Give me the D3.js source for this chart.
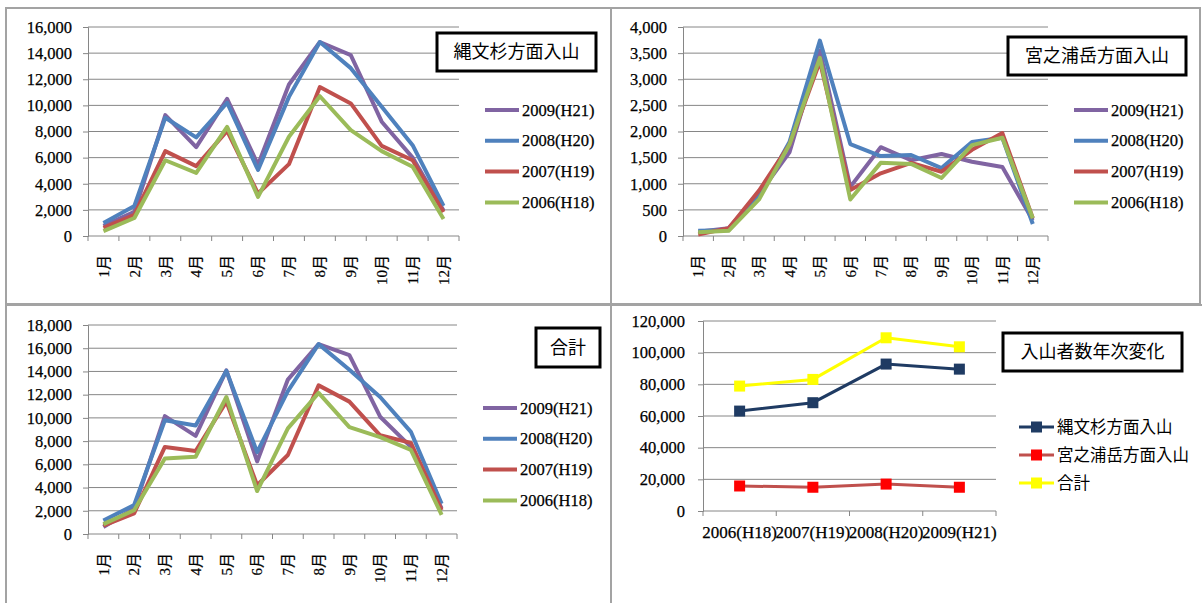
<!DOCTYPE html>
<html>
<head>
<meta charset="utf-8">
<script src="https://cdn.jsdelivr.net/npm/d3@7"></script>
<style>
body { margin: 0; background: #fff; }
svg { display: block; }
.num { font-family: "Liberation Serif", "Noto Sans CJK JP", serif; font-size: 16.5px; fill: #000; stroke: #000; stroke-width: 0.25px; }
.mon { font-family: "Liberation Serif", "Noto Sans CJK JP", serif; font-size: 15px; fill: #000; stroke: #000; stroke-width: 0.2px; }
.jp { font-family: "Noto Sans CJK JP", sans-serif; fill: #000; }
</style>
</head>
<body>
<div id="chart"></div>
<script>
// データ
const months = ["1月", "2月", "3月", "4月", "5月", "6月", "7月", "8月", "9月", "10月", "11月", "12月"];
const years = ["2009(H21)", "2008(H20)", "2007(H19)", "2006(H18)"];
const seriesColors = ["#8064A2", "#4F81BD", "#C0504D", "#9BBB59"];

// 縄文杉方面入山
const jomon2009 = [770, 1850, 9250, 6800, 10500, 5450, 11600, 14850, 13850, 8750, 6000, 1950];
const jomon2008 = [1000, 2300, 9050, 7550, 10200, 5050, 10650, 14850, 12850, 9900, 6950, 2300];
const jomon2007 = [620, 1620, 6500, 5350, 8050, 3250, 5500, 11400, 10150, 6900, 5800, 1840];
const jomon2006 = [380, 1380, 5800, 4830, 8350, 2990, 7600, 10700, 8100, 6500, 5300, 1300];

// 宮之浦岳方面入山
const miya2009 = [80, 150, 800, 1600, 3550, 940, 1700, 1450, 1570, 1420, 1320, 300];
const miya2008 = [100, 110, 750, 1800, 3740, 1760, 1530, 1550, 1300, 1800, 1880, 230];
const miya2007 = [30, 150, 870, 1750, 3340, 880, 1200, 1400, 1230, 1650, 1970, 340];
const miya2006 = [70, 100, 700, 1750, 3410, 700, 1400, 1380, 1110, 1740, 1880, 340];

// 合計
const total2009 = [600, 2200, 10150, 8450, 14100, 6250, 13300, 16350, 15400, 10100, 7500, 2200];
const total2008 = [1150, 2500, 9800, 9350, 14050, 7050, 12300, 16350, 14150, 11800, 8800, 2600];
const total2007 = [720, 1780, 7500, 7150, 11400, 4200, 6800, 12800, 11400, 8500, 7850, 2050];
const total2006 = [850, 2050, 6500, 6650, 11800, 3700, 9100, 12150, 9200, 8350, 7250, 1650];

// 入山者数年次変化
const yearCats = ["2006(H18)", "2007(H19)", "2008(H20)", "2009(H21)"];
const jomonYear = [63100, 68400, 92800, 89600];
const miyaYear = [15800, 15000, 17000, 15000];
const totalYear = [78900, 83100, 109400, 103700];
const yearNames = ["縄文杉方面入山", "宮之浦岳方面入山", "合計"];

const width = 1202, height = 603;
const svg = d3.select("#chart").append("svg")
    .attr("width", width).attr("height", height);

// パネルの枠
const frame = svg.append("g").attr("stroke", "#a3a3a3").attr("stroke-width", 2).attr("fill", "none");
frame.append("path").attr("d", "M6,603V8H1200V304H6");
frame.append("path").attr("d", "M611,8V603");
frame.append("path").attr("d", "M6,305H611V305H1202");

const fmt = d3.format(",");

function titleBox(x, y, w, h, text) {
    svg.append("rect").attr("x", x).attr("y", y).attr("width", w).attr("height", h)
        .attr("fill", "#fff").attr("stroke", "#000").attr("stroke-width", 3);
    svg.append("text").attr("class", "jp")
        .attr("x", x + w / 2).attr("y", y + h / 2).attr("dy", "0.36em")
        .attr("text-anchor", "middle").attr("font-size", 18).text(text);
}

function drawAxes(g, x, y, ticks, x0, x1, y0, labelGap) {
    // グリッド線
    g.append("g").selectAll("line").data(ticks.filter(t => t > 0)).enter().append("line")
        .attr("x1", x0).attr("x2", x1).attr("y1", d => y(d)).attr("y2", d => y(d))
        .attr("stroke", "#868686").attr("stroke-width", 1);
    // y軸
    const ya = g.append("g").attr("transform", "translate(" + x0 + ",0)")
        .call(d3.axisLeft(y).tickValues(ticks).tickFormat(fmt).tickSize(5).tickPadding(labelGap));
    ya.select(".domain").attr("stroke", "#868686");
    ya.selectAll(".tick line").attr("stroke", "#868686");
    ya.selectAll("text").attr("class", "num").attr("font-size", null).attr("font-family", null);
    // x軸
    const bounds = x.domain().map(d => x(d)).concat([x.range()[1]]);
    g.append("line").attr("x1", x0).attr("x2", x1).attr("y1", y0).attr("y2", y0)
        .attr("stroke", "#868686");
    g.append("g").selectAll("line").data(bounds).enter().append("line")
        .attr("x1", d => d).attr("x2", d => d).attr("y1", y0).attr("y2", y0 + 5)
        .attr("stroke", "#868686");
}

function monthlyPanel(cfg, seriesList) {
    const g = svg.append("g");
    const x = d3.scaleBand().domain(months).range([cfg.x0, cfg.x1]);
    const y = d3.scaleLinear().domain([0, cfg.max]).range([cfg.y0, cfg.yTop]);
    const ticks = d3.range(0, cfg.max + 1, cfg.step);
    drawAxes(g, x, y, ticks, cfg.x0, cfg.x1, cfg.y0, 11);

    // 月ラベル(縦書き回転)
    g.append("g").selectAll("text").data(months).enter().append("text")
        .attr("class", "mon")
        .attr("transform", d => "translate(" + (x(d) + x.bandwidth() / 2) + "," + (cfg.y0 + 19) + ") rotate(-90)")
        .attr("dy", "0.35em").attr("text-anchor", "end").text(d => d);

    const line = d3.line()
        .x((d, i) => x(months[i]) + x.bandwidth() / 2)
        .y(d => y(d));
    seriesList.forEach((vals, k) => {
        g.append("path").datum(vals).attr("d", line)
            .attr("fill", "none").attr("stroke", seriesColors[k])
            .attr("stroke-width", 4).attr("stroke-linejoin", "round");
    });

    // 凡例
    years.forEach((name, k) => {
        const ly = cfg.legY + k * 30.8;
        g.append("line").attr("x1", cfg.legX).attr("x2", cfg.legX + 34)
            .attr("y1", ly).attr("y2", ly)
            .attr("stroke", seriesColors[k]).attr("stroke-width", 4);
        g.append("text").attr("class", "num").attr("x", cfg.legX + 37).attr("y", ly)
            .attr("dy", "0.34em").text(name);
    });
    titleBox(cfg.tx, cfg.ty, cfg.tw, cfg.th, cfg.title);
}

monthlyPanel({ x0: 88, x1: 459, y0: 236, yTop: 27, max: 16000, step: 2000,
    legX: 485, legY: 110, tx: 437, ty: 33, tw: 159, th: 38, title: "縄文杉方面入山" },
    [jomon2009, jomon2008, jomon2007, jomon2006]);

monthlyPanel({ x0: 683, x1: 1048, y0: 236, yTop: 27, max: 4000, step: 500,
    legX: 1074, legY: 110, tx: 1008, ty: 37, tw: 178, th: 38, title: "宮之浦岳方面入山" },
    [miya2009, miya2008, miya2007, miya2006]);

monthlyPanel({ x0: 88, x1: 457, y0: 534, yTop: 325, max: 18000, step: 2000,
    legX: 483, legY: 408, tx: 536, ty: 328, tw: 64, th: 39, title: "合計" },
    [total2009, total2008, total2007, total2006]);

// 入山者数年次変化
(function () {
    const x0 = 703, x1 = 996, y0 = 511, yTop = 321;
    const g = svg.append("g");
    const x = d3.scaleBand().domain(yearCats).range([x0, x1]);
    const y = d3.scaleLinear().domain([0, 120000]).range([y0, yTop]);
    const ticks = d3.range(0, 120001, 20000);
    drawAxes(g, x, y, ticks, x0, x1, y0, 13);

    const xa = g.append("g").attr("transform", "translate(0," + y0 + ")")
        .call(d3.axisBottom(x).tickSize(0).tickPadding(15));
    xa.select(".domain").remove();
    xa.selectAll("text").attr("class", "num").attr("font-size", null).attr("font-family", null)
        .style("font-size", "17px");

    const lineCol = ["#1F3B63", "#C0504D", "#FFFF00"];
    const markCol = ["#1F3B63", "#FF0000", "#FFFF00"];
    const line = d3.line()
        .x((d, i) => x(yearCats[i]) + x.bandwidth() / 2)
        .y(d => y(d));
    [jomonYear, miyaYear, totalYear].forEach((vals, k) => {
        g.append("path").datum(vals).attr("d", line)
            .attr("fill", "none").attr("stroke", lineCol[k]).attr("stroke-width", 3);
        g.append("g").selectAll("rect").data(vals).enter().append("rect")
            .attr("x", (d, i) => x(yearCats[i]) + x.bandwidth() / 2 - 5.5)
            .attr("y", d => y(d) - 5.5)
            .attr("width", 11).attr("height", 11)
            .attr("fill", markCol[k]);
    });

    yearNames.forEach((name, k) => {
        const ly = 427 + k * 28;
        g.append("line").attr("x1", 1019).attr("x2", 1054).attr("y1", ly).attr("y2", ly)
            .attr("stroke", lineCol[k]).attr("stroke-width", 3);
        g.append("rect").attr("x", 1031).attr("y", ly - 5.5).attr("width", 11).attr("height", 11)
            .attr("fill", markCol[k]);
        g.append("text").attr("class", "jp").attr("font-size", 16.5)
            .attr("x", 1057).attr("y", ly).attr("dy", "0.36em").text(name);
    });

    titleBox(1003, 333, 179, 38, "入山者数年次変化");
})();
</script>
</body>
</html>
